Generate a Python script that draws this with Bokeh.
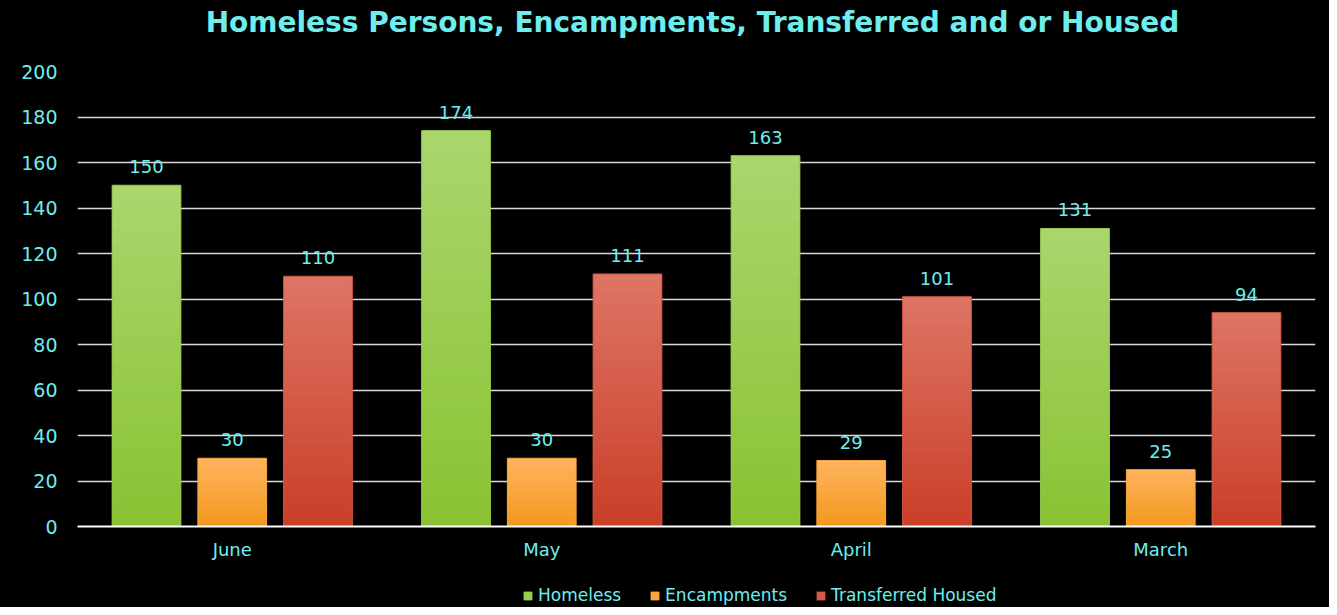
from bokeh.plotting import figure
from bokeh.layouts import column
from bokeh.models import ColumnDataSource, Div, FactorRange, Legend, LegendItem, Range1d, SingleIntervalTicker
from bokeh.transform import dodge
from bokeh.core.properties import value
from bokeh.embed import file_html
from bokeh.resources import INLINE

title_text = "Homeless Persons, Encampments, Transferred and or Housed"
months = ["June", "May", "April", "March"]
series = ["Homeless", "Encampments", "Transferred Housed"]
homeless = [150, 174, 163, 131]
encampments = [30, 30, 29, 25]
transferred = [110, 111, 101, 94]

values = [homeless, encampments, transferred]
offsets = [-0.277, 0.0, 0.277]
top_colors = [(170, 214, 110), (255, 180, 96), (222, 117, 101)]
bot_colors = [(138, 194, 50), (243, 152, 30), (201, 62, 40)]

CYAN = "#6FEDED"
FONT = "DejaVu Sans"

title = Div(text=('<div style="box-sizing:border-box;width:1329px;height:45px;line-height:45px;'
                  'padding-left:56px;text-align:center;color:%s;font-family:\'%s\';'
                  'font-weight:bold;font-size:28px;white-space:nowrap;">%s</div>')
            % (CYAN, FONT, title_text),
            width=1329, height=45, styles={"background-color": "black", "margin": "0"})

p = figure(x_range=FactorRange(*months, range_padding=0), y_range=Range1d(0, 200),
           width=1329, height=532, output_backend="svg", toolbar_location=None,
           background_fill_color="black", border_fill_color="black",
           min_border_left=77, min_border_right=14, min_border_top=26, min_border_bottom=51,
           styles={"background-color": "black"})
p.outline_line_color = None
p.title.text = ""

N = 40
for si, (vals, off, tc, bc) in enumerate(zip(values, offsets, top_colors, bot_colors)):
    xs, b, tp, cols = [], [], [], []
    for m, v in zip(months, vals):
        for k in range(N):
            f = (k + 0.5) / N
            c = tuple(int(round(bc[j] + (tc[j] - bc[j]) * f)) for j in range(3))
            xs.append(m)
            b.append(v * k / N)
            tp.append(min(v, v * (k + 1.6) / N))
            cols.append("#%02x%02x%02x" % c)
    src = ColumnDataSource(dict(x=xs, bottom=b, top=tp, color=cols))
    p.vbar(x=dodge("x", off, range=p.x_range), bottom="bottom", top="top", width=0.222,
           fill_color="color", line_color=None, source=src)
    lsrc = ColumnDataSource(dict(x=months, top=vals, lab=[str(v) for v in vals]))
    mid = "#%02x%02x%02x" % tuple((tc[j] + bc[j]) // 2 for j in range(3))
    p.vbar(x=dodge("x", off, range=p.x_range), top="top", width=0.222,
           fill_color=None, line_color=mid, line_width=1, source=lsrc)
    p.text(x=dodge("x", off, range=p.x_range), y="top", text="lab", source=lsrc,
           text_align="center", text_baseline="bottom", y_offset=-12,
           text_color=CYAN, text_font=value(FONT), text_font_size="18px")

p.yaxis.ticker = SingleIntervalTicker(interval=20)
p.ygrid.grid_line_color = "#d9d9d9"
p.ygrid.grid_line_width = 1.5
p.xgrid.grid_line_color = None
for ax in (p.xaxis, p.yaxis):
    ax.axis_line_color = None
    ax.major_tick_line_color = None
    ax.minor_tick_line_color = None
    ax.major_label_text_color = CYAN
    ax.major_label_text_font = FONT
    ax.major_label_text_font_size = "18px"
p.yaxis.major_label_text_font_size = "19px"
p.yaxis.major_label_standoff = 14
p.xaxis.major_label_standoff = 6
p.xaxis.axis_line_color = "white"
p.xaxis.axis_line_width = 2

# legend strip
lg = figure(width=1329, height=30, output_backend="svg", toolbar_location=None,
            x_range=Range1d(0, 1), y_range=Range1d(0, 1),
            background_fill_color="black", border_fill_color="black",
            min_border=0, min_border_left=0, min_border_right=0, min_border_top=0,
            min_border_bottom=0, styles={"background-color": "black"})
lg.axis.visible = False
lg.grid.visible = False
lg.outline_line_color = None
leg_items = []
for s, tc, bc in zip(series, top_colors, bot_colors):
    mid = "#%02x%02x%02x" % tuple((tc[j] + bc[j]) // 2 for j in range(3))
    r = lg.quad(left=[-5], right=[-4], bottom=[-5], top=[-4], fill_color=mid,
                line_color=None)
    leg_items.append(LegendItem(label=s, renderers=[r]))
legend = Legend(items=leg_items, orientation="horizontal", location=(445, 2),
                background_fill_alpha=0, border_line_color=None,
                label_text_color=CYAN, label_text_font=FONT, label_text_font_size="17px",
                glyph_width=11, glyph_height=11, label_standoff=5, spacing=28,
                padding=0, margin=2)
lg.add_layout(legend, "center")

layout = column(title, p, lg, spacing=0, styles={"background-color": "black"})
open("out.html", "w").write(file_html(layout, INLINE))
